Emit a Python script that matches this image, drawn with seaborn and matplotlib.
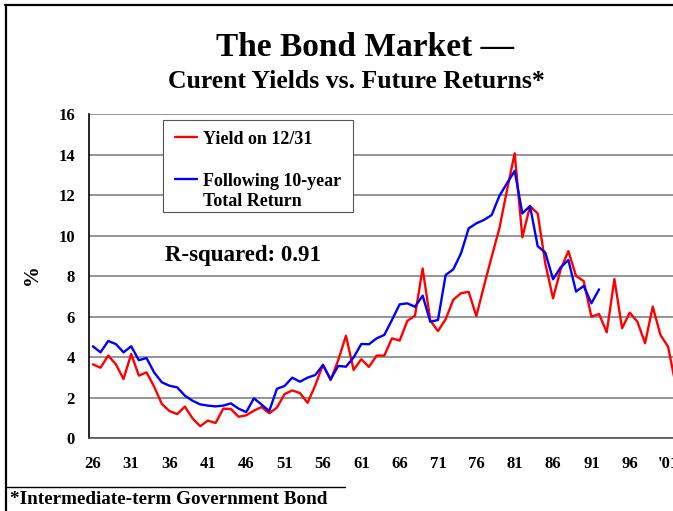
import matplotlib
matplotlib.use("Agg")

import matplotlib.pyplot as plt
from matplotlib.lines import Line2D
from matplotlib.patches import Rectangle
import numpy as np
import pandas as pd
import seaborn as sns

years = list(range(1926, 2003))

yield_1231 = [
    3.64, 3.47, 4.07, 3.64, 2.91, 4.15, 3.08, 3.24, 2.53, 1.68,
    1.33, 1.18, 1.55, 0.97, 0.58, 0.86, 0.74, 1.45, 1.43, 1.05,
    1.12, 1.35, 1.53, 1.22, 1.50, 2.17, 2.35, 2.22, 1.74, 2.60,
    3.62, 2.86, 3.85, 5.05, 3.36, 3.89, 3.51, 4.07, 4.07, 4.92,
    4.81, 5.78, 6.04, 8.37, 5.80, 5.28, 5.87, 6.83, 7.15, 7.22,
    6.02, 7.51, 8.95, 10.35, 12.25, 14.06, 9.91, 11.45, 11.09, 8.60,
    6.90, 8.33, 9.23, 8.00, 7.75, 5.99, 6.12, 5.22, 7.85, 5.42,
    6.19, 5.74, 4.68, 6.49, 5.09, 4.51, 2.60,
]

# following 10-year total return, known through 1992
return_10yr = [
    4.53, 4.23, 4.79, 4.64, 4.23, 4.53, 3.84, 3.95, 3.23, 2.75,
    2.58, 2.50, 2.09, 1.84, 1.66, 1.60, 1.56, 1.60, 1.71, 1.45,
    1.28, 1.96, 1.65, 1.33, 2.43, 2.57, 2.98, 2.78, 2.98, 3.11,
    3.60, 2.90, 3.56, 3.52, 3.98, 4.64, 4.63, 4.92, 5.09, 5.83,
    6.60, 6.65, 6.48, 7.03, 5.74, 5.83, 8.05, 8.33, 9.12, 10.35,
    10.60, 10.77, 11.01, 11.95, 12.58, 13.19, 11.09, 11.46, 9.47, 9.15,
    7.84, 8.43, 8.79, 7.23, 7.51, 6.65, 7.34,
]

tick_years = list(range(1926, 2002, 5))
tick_labels = ["26", "31", "36", "41", "46", "51", "56", "61", "66",
               "71", "76", "81", "86", "91", "96", "'01"]
y_ticks = list(range(0, 17, 2))

sns.set_style("white")
plt.rcParams["font.family"] = ["Liberation Serif", "DejaVu Serif"]
plt.rcParams["font.weight"] = "bold"
for key in ["text.color", "axes.labelcolor", "xtick.color", "ytick.color"]:
    plt.rcParams[key] = "black"

df_yield = pd.DataFrame({"year": years, "value": yield_1231})
df_ret = pd.DataFrame({"year": years[:len(return_10yr)], "value": return_10yr})

fig = plt.figure(figsize=(6.73, 5.11), dpi=100)
W, H = 673.0, 511.0


def fx(px):
    return px / W


def fy(py):
    # pixel row from the top -> figure fraction
    return 1 - py / H


# plot area runs off the right edge, like the cropped original
px_per_year = 7.67
x0, x1 = 1925.5, 2003.5
ax_w = (x1 - x0) * px_per_year
ax = fig.add_axes([fx(89), 73 / H, ax_w / W, 324 / H])

sns.lineplot(data=df_yield, x="year", y="value", color="#ff0000", linewidth=1.7, ax=ax)
sns.lineplot(data=df_ret, x="year", y="value", color="#0000ff", linewidth=1.7, ax=ax)

ax.set_xlim(x0, x1)
ax.set_ylim(0, 16)
ax.set_yticks(y_ticks)
ax.yaxis.grid(True, color="#8c8c8c", linewidth=1.3)
ax.set_axisbelow(True)

ax.set_xticks(tick_years)
ax.set_xticklabels(tick_labels, fontsize=12, fontweight="bold")
ax.set_xticks(np.arange(x0, x1, 1.0), minor=True)
ax.tick_params(axis="x", which="major", length=0, pad=13)
ax.tick_params(axis="x", which="minor", length=3.5, width=0.8, color="black", direction="out")
ax.tick_params(axis="y", length=3, width=0.8, color="black", direction="out", pad=7, labelsize=12)
for lab in ax.get_yticklabels():
    lab.set_fontweight("bold")

for s in ["top", "right"]:
    ax.spines[s].set_visible(False)
ax.spines["left"].set_color("black")
ax.spines["left"].set_linewidth(1.2)
ax.spines["bottom"].set_color("#555555")
ax.spines["bottom"].set_linewidth(1.2)

ax.set_xlabel("")
ax.set_ylabel("%", fontsize=15, fontweight="bold")
ax.yaxis.set_label_coords(-47 / ax_w, (438 - 275) / 324)

# legend box, laid out like the original (handle beside first line of each label)
fig.add_artist(Rectangle((fx(163), fy(212)), fx(353) - fx(163), fy(120) - fy(212),
                         transform=fig.transFigure, facecolor="white",
                         edgecolor="#555555", linewidth=0.8, zorder=5))
legend_rows = [
    ("#ff0000", 137, ["Yield on 12/31"], [139]),
    ("#0000ff", 179, ["Following 10-year", "Total Return"], [182, 202]),
]
for color, line_y, texts, text_ys in legend_rows:
    fig.add_artist(Line2D([fx(175), fx(197)], [fy(line_y), fy(line_y)],
                          color=color, linewidth=1.7, zorder=6))
    for t, ty in zip(texts, text_ys):
        fig.text(fx(203), fy(ty), t, fontsize=13, fontweight="bold",
                 ha="left", va="center", zorder=6)

fig.text(fx(165), fy(255), "R-squared: 0.91", fontsize=16.5, fontweight="bold",
         va="center", ha="left")

fig.text(fx(365), fy(47), "The Bond Market \u2014", fontsize=24, fontweight="bold",
         ha="center", va="center")
fig.text(fx(356), fy(81), "Curent Yields vs. Future Returns*", fontsize=18.5,
         fontweight="bold", ha="center", va="center")

fig.text(fx(10), fy(499), "*Intermediate-term Government Bond", fontsize=13.8,
         fontweight="bold", ha="left", va="center")

# slide frame and footnote rule
fig.add_artist(Line2D([fx(6), fx(6)], [0, fy(5)], color="black", linewidth=1.6))
fig.add_artist(Line2D([fx(5), 1], [fy(5), fy(5)], color="black", linewidth=1.6))
fig.add_artist(Line2D([fx(6), fx(345)], [fy(487), fy(487)], color="black", linewidth=1.0))

fig.savefig("out.png", dpi=100)
